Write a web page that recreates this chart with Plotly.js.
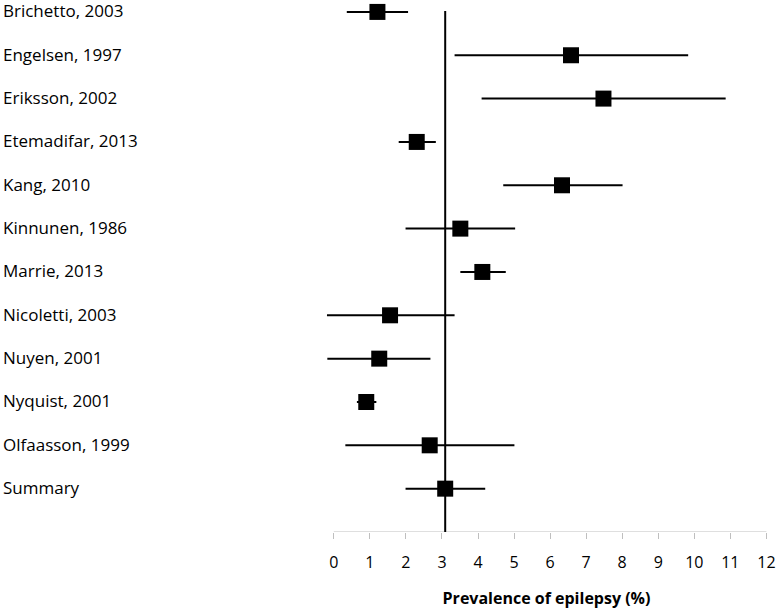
<!DOCTYPE html>
<html>
<head>
<meta charset="utf-8">
<script src="https://cdn.plot.ly/plotly-3.0.1.min.js"></script>
<style>html,body{margin:0;padding:0;background:#fff;}#chart{width:778px;height:611px;}</style>
</head>
<body>
<div id="chart"></div>
<script>
const studies = ["Brichetto, 2003","Engelsen, 1997","Eriksson, 2002","Etemadifar, 2013","Kang, 2010","Kinnunen, 1986","Marrie, 2013","Nicoletti, 2003","Nuyen, 2001","Nyquist, 2001","Olfaasson, 1999","Summary"];
const estimate = [1.21, 6.58, 7.48, 2.30, 6.33, 3.51, 4.12, 1.56, 1.26, 0.90, 2.66, 3.09];
const lower    = [0.36, 3.35, 4.10, 1.80, 4.70, 1.99, 3.51, -0.19, -0.18, 0.64, 0.32, 1.99];
const upper    = [2.06, 9.83, 10.87, 2.83, 8.01, 5.03, 4.77, 3.35, 2.68, 1.18, 5.01, 4.20];
const xTicks = [0,1,2,3,4,5,6,7,8,9,10,11,12];

const n = studies.length;
const rowPos = studies.map((s, i) => n - i);
const summaryValue = estimate[n - 1];

const FONT = '"Open Sans", "Noto Sans", sans-serif';

const trace = {
  type: 'scatter',
  mode: 'markers',
  x: estimate,
  y: rowPos,
  marker: {symbol: 'square', size: 16, color: '#000'},
  error_x: {
    type: 'data', symmetric: false,
    array: upper.map((u, i) => u - estimate[i]),
    arrayminus: lower.map((l, i) => estimate[i] - l),
    color: '#000', thickness: 2, width: 0
  },
  hoverinfo: 'skip',
  cliponaxis: false
};

// x range extended slightly left so CI lines below 0 are not clipped
const xMin = -0.3, xMax = 12.1, pxPerUnit = 36;
const ML = 334 + xMin * pxPerUnit;          // 0 sits at 334 px
const plotW = (xMax - xMin) * pxPerUnit;
const MR = 778 - ML - plotW;

const annotations = studies.map((s, i) => ({
  xref: 'paper', yref: 'y',
  x: -(ML - 2) / plotW, y: rowPos[i],
  text: s, showarrow: false, xanchor: 'left', yanchor: 'middle',
  yshift: 1,
  font: {family: FONT, size: 17, color: '#000'}
}));

const layout = {
  width: 778, height: 611,
  margin: {l: ML, r: MR, t: 0, b: 79},
  paper_bgcolor: '#fff', plot_bgcolor: '#fff',
  showlegend: false,
  xaxis: {
    range: [xMin, xMax], tickvals: xTicks, ticktext: xTicks.map(String),
    showgrid: false, zeroline: false, showline: false,
    ticks: 'outside', ticklen: 6, tickcolor: '#bfbfbf', tickwidth: 1,
    ticklabelstandoff: 10,
    tickfont: {family: FONT, size: 16, color: '#000'},
    title: {text: '<b>Prevalence of epilepsy (%)</b>', standoff: 20,
            font: {family: FONT, size: 16, color: '#000'}},
    fixedrange: true
  },
  yaxis: {
    range: [0, 12.275], showgrid: false, zeroline: false, showline: false,
    showticklabels: false, ticks: '', fixedrange: true
  },
  shapes: [
    {type: 'line', xref: 'x', yref: 'y', x0: xTicks[0], x1: xTicks[xTicks.length - 1], y0: 0, y1: 0,
     line: {color: '#bfbfbf', width: 1}, layer: 'below'},
    {type: 'line', xref: 'x', yref: 'y', x0: summaryValue, x1: summaryValue, y0: 0, y1: 12.02,
     line: {color: '#000', width: 2}, layer: 'below'}
  ],
  annotations: annotations
};

Plotly.newPlot('chart', [trace], layout, {displayModeBar: false, staticPlot: true});
</script>
</body>
</html>
